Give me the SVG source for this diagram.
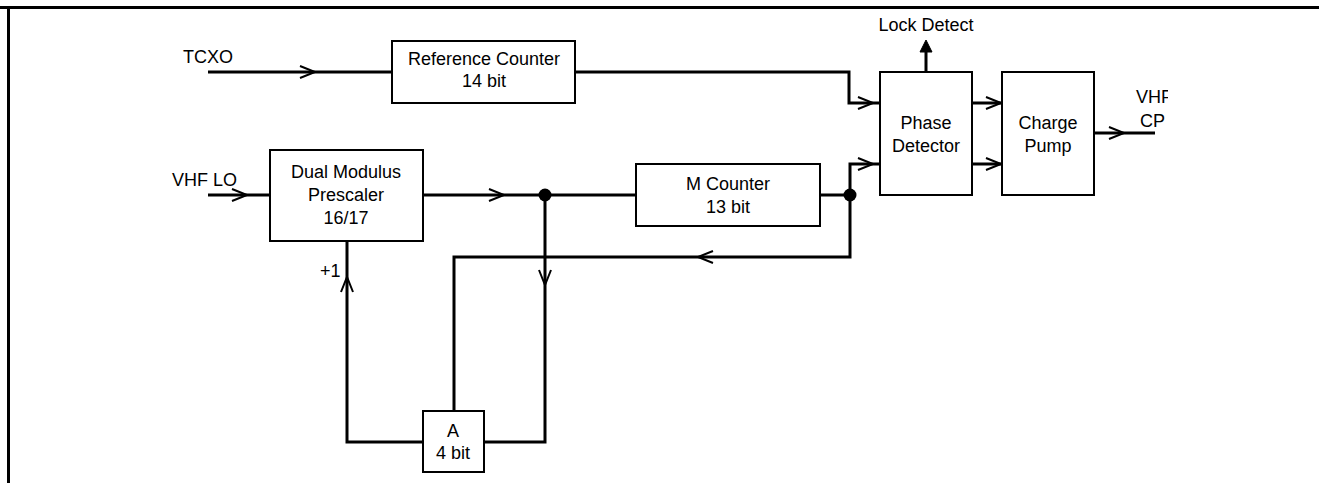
<svg xmlns="http://www.w3.org/2000/svg" width="1319" height="483" viewBox="0 0 1319 483">
<defs>
<style>
.box{fill:#fff;stroke:#000;stroke-width:2}
.w{fill:none;stroke:#000;stroke-width:3}
.ah{fill:none;stroke:#000;stroke-width:2}
.t{font-family:"Liberation Sans",Arial,sans-serif;font-size:18px;fill:#000}
.c{text-anchor:middle}
</style>
<clipPath id="clipR"><rect x="0" y="0" width="1168" height="483"/></clipPath>
</defs>
<rect width="1319" height="483" fill="#fff"/>
<g id="frame">
<path d="M0 7.5H1319M8.5 7.5V483" fill="none" stroke="#000" stroke-width="3"/>
</g>
<g id="connectors">
<path class="w" d="M208 72H392"/>
<path class="ah" d="M300 66L315 72L300 78"/>
<path class="w" d="M575 72H849V103H880"/>
<path class="ah" d="M858 97L873 103L858 109"/>
<path class="w" d="M208 195H270"/>
<path class="ah" d="M232 189L247 195L232 201"/>
<path class="w" d="M423 195H636"/>
<path class="ah" d="M489 189L504 195L489 201"/>
<path class="w" d="M820 195H850V164H880"/>
<path class="ah" d="M858 158L873 164L858 170"/>
<path class="w" d="M850 195V257H454V411"/>
<path class="ah" d="M713 251L698 257L713 263"/>
<path class="w" d="M545 195V442H484"/>
<path class="ah" d="M539 270L545 285L551 270"/>
<path class="w" d="M423 442H347V241"/>
<path class="ah" d="M341 292L347 277L353 292"/>
<path class="w" d="M926 72V50"/>
<path d="M920 52L926 40L932 52Z" fill="#000" stroke="#000" stroke-width="1"/>
<path class="w" d="M972 103H1002M972 164H1002"/>
<path class="ah" d="M986 97L1001 103L986 109M986 158L1001 164L986 170"/>
<path class="w" d="M1094 133H1155"/>
<path class="ah" d="M1109 127L1124 133L1109 139"/>
<circle cx="545" cy="195" r="6.5" fill="#000"/>
<circle cx="850" cy="195" r="6.5" fill="#000"/>
</g>
<g id="labels">
<text class="t" x="183" y="63">TCXO</text>
<text class="t" x="172" y="186">VHF LO</text>
<text class="t" x="320" y="277">+1</text>
<text class="t c" x="926" y="31">Lock Detect</text>
<g clip-path="url(#clipR)">
<text class="t" x="1136" y="103">VHF</text>
<text class="t" x="1140" y="127">CP</text>
</g>
</g>
<g id="ref-counter">
<rect class="box" x="392" y="41" width="183" height="62"/>
<text class="t c" x="484" y="65">Reference Counter</text>
<text class="t c" x="484" y="87">14 bit</text>
</g>
<g id="prescaler">
<rect class="box" x="270" y="150" width="153" height="91"/>
<text class="t c" x="346" y="178">Dual Modulus</text>
<text class="t c" x="346" y="201">Prescaler</text>
<text class="t c" x="346" y="224">16/17</text>
</g>
<g id="m-counter">
<rect class="box" x="636" y="164" width="184" height="62"/>
<text class="t c" x="728" y="190">M Counter</text>
<text class="t c" x="728" y="213">13 bit</text>
</g>
<g id="a-counter">
<rect class="box" x="423" y="411" width="61" height="61"/>
<text class="t c" x="453" y="437">A</text>
<text class="t c" x="453" y="459">4 bit</text>
</g>
<g id="phase-detector">
<rect class="box" x="880" y="72" width="92" height="123"/>
<text class="t c" x="926" y="129">Phase</text>
<text class="t c" x="926" y="152">Detector</text>
</g>
<g id="charge-pump">
<rect class="box" x="1002" y="72" width="92" height="123"/>
<text class="t c" x="1048" y="129">Charge</text>
<text class="t c" x="1048" y="152">Pump</text>
</g>
</svg>
